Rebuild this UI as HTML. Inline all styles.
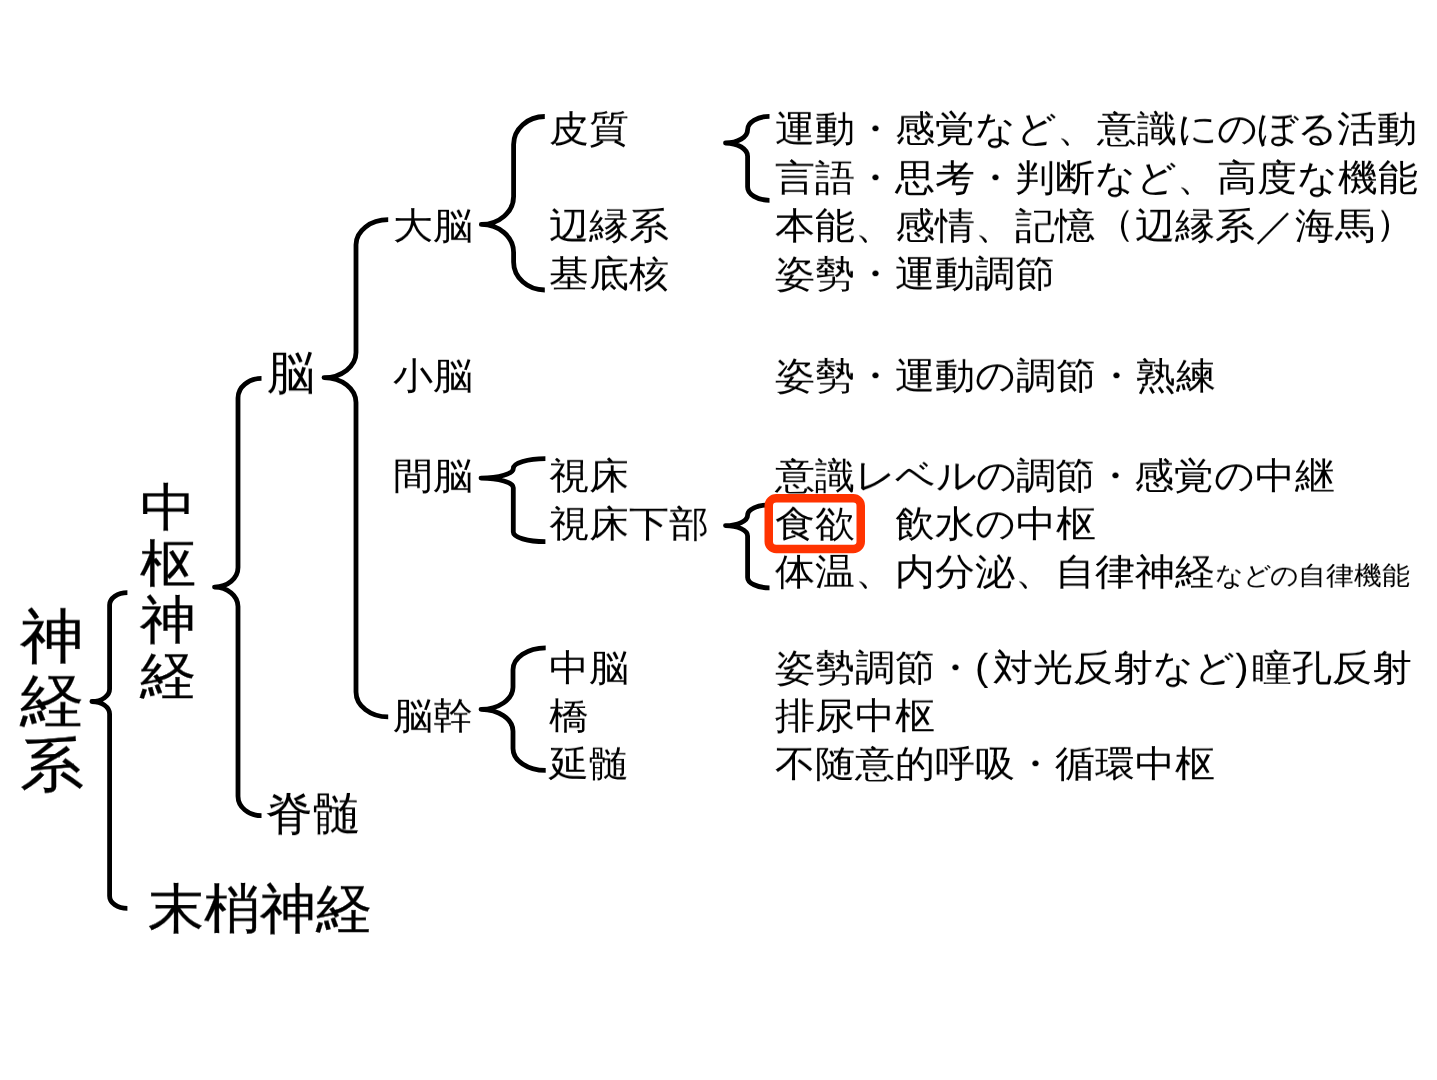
<!DOCTYPE html>
<html lang="ja"><head><meta charset="utf-8"><title>神経系</title>
<style>
html,body{margin:0;padding:0;background:#fff;}
body{width:1437px;height:1080px;position:relative;overflow:hidden;font-family:"Liberation Sans",sans-serif;color:#000;}
.t{position:absolute;white-space:pre;line-height:1;transform-origin:0 0;will-change:transform;}
.s{font-size:27.5px;}
#t1,#t2,#t3{-webkit-text-stroke:0.3px #000;}
.p1{letter-spacing:5px;}
.p2{letter-spacing:3.4px;}
.k1{letter-spacing:-1px;}
.k2{letter-spacing:-1.5px;}
.k3{letter-spacing:-0.75px;}
.k4{letter-spacing:-0.67px;}
.u{position:relative;top:-3px;}
svg{position:absolute;left:0;top:0;}
</style></head><body>
<svg width="1437" height="1080" viewBox="0 0 1437 1080"><g fill="none" stroke="#000" stroke-width="4.8" stroke-linejoin="round">
<path d="M127.4 592.6A17.8 12.5 0 0 0 109.6 605.1L109.6 689A17.7 12.5 0 0 1 91.9 701.5A17.7 12.5 0 0 1 109.6 714L109.6 895.9A17.8 12.5 0 0 0 127.4 908.4"/>
<path d="M261.5 378.4A23.5 19.5 0 0 0 238 397.9L238 567.6A23.5 19.5 0 0 1 214.5 587.1A23.5 19.5 0 0 1 238 606.6L238 796.2A23.5 19.5 0 0 0 261.5 815.7"/>
<path d="M388.2 219.7A32.2 25 0 0 0 356 244.7L356 352.6A32 25 0 0 1 324 377.6A32 25 0 0 1 356 402.6L356 691.9A32.2 25 0 0 0 388.2 716.9"/>
<path d="M544.8 116.5A31.2 28 0 0 0 513.6 144.5L513.6 196.4A32.3 28 0 0 1 481.3 224.4A32.3 28 0 0 1 513.6 252.4L513.6 262A31.2 28 0 0 0 544.8 290"/>
<path d="M545.4 458.7A32.1 9.7 0 0 0 513.3 468.4L513.3 468.4A32.3 9.7 0 0 1 481 478.1A32.3 9.7 0 0 1 513.3 487.8L513.3 532A32.1 9.7 0 0 0 545.4 541.7"/>
<path d="M545.7 647.8A32.7 22 0 0 0 513 669.8L513 687.3A32 22 0 0 1 481 709.3A32 22 0 0 1 513 731.3L513 748.4A32.7 22 0 0 0 545.7 770.4"/>
<path d="M769.5 116.3A21.9 13.35 0 0 0 747.6 129.65L747.6 129.65A22.1 13.35 0 0 1 725.5 143A22.1 13.35 0 0 1 747.6 156.35L747.6 186.95A21.9 13.35 0 0 0 769.5 200.3"/>
<path d="M769.5 504.8A21.9 10.4 0 0 0 747.6 515.2L747.6 515.2A22.1 10.4 0 0 1 725.5 525.6A22.1 10.4 0 0 1 747.6 536L747.6 577.4A21.9 10.4 0 0 0 769.5 587.8"/>
</g><rect x="768.75" y="498.25" width="92" height="50.8" rx="7.5" ry="7.5" fill="none" stroke="#FF3300" stroke-width="8.5"/></svg>
<div class="t" id="t1" style="left:20px;top:604.1px;font-size:64px;line-height:70.11px;transform:scaleY(0.92)">神<br>経<br>系</div>
<div class="t" id="t2" style="left:140px;top:480.2px;font-size:56px;line-height:60.87px;transform:scaleY(0.92)">中<br>枢<br>神<br>経</div>
<div class="t" id="t3" style="left:148px;top:881.5px;font-size:56px;transform:scaleY(0.96)">末梢神経</div>
<div class="t" id="t4" style="left:266.6px;top:350.3px;font-size:48px;transform:scaleY(0.96)">脳</div>
<div class="t" id="t5" style="left:265.2px;top:790.8px;font-size:48px;transform:scaleY(0.96)">脊髄</div>
<div class="t" id="t6" style="left:393px;top:206.59px;font-size:40px;transform:scaleY(0.92)">大脳</div>
<div class="t" id="t7" style="left:393px;top:357.1px;font-size:40px;transform:scaleY(0.92)">小脳</div>
<div class="t" id="t8" style="left:393px;top:457.3px;font-size:40px;transform:scaleY(0.92)">間脳</div>
<div class="t" id="t9" style="left:393px;top:697px;font-size:40px;transform:scaleY(0.92)">脳幹</div>
<div class="t" id="t10" style="left:549px;top:110.49px;font-size:40px;transform:scaleY(0.92)">皮質</div>
<div class="t" id="t11" style="left:549px;top:206.59px;font-size:40px;transform:scaleY(0.92)">辺縁系</div>
<div class="t" id="t12" style="left:549px;top:254.64px;font-size:40px;transform:scaleY(0.92)">基底核</div>
<div class="t" id="t13" style="left:549px;top:457.3px;font-size:40px;transform:scaleY(0.92)">視床</div>
<div class="t" id="t14" style="left:549px;top:505.15px;font-size:40px;transform:scaleY(0.92)">視床下部</div>
<div class="t" id="t15" style="left:549px;top:648.5px;font-size:40px;transform:scaleY(0.92)">中脳</div>
<div class="t" id="t16" style="left:549px;top:697px;font-size:40px;transform:scaleY(0.92)">橋</div>
<div class="t" id="t17" style="left:549px;top:744.9px;font-size:40px;transform:scaleY(0.92)">延髄</div>
<div class="t" id="r1" style="left:774.5px;top:110.49px;font-size:40px;transform:scaleY(0.92)">運動・感覚など、意識<span class="k1">にのぼる</span>活動</div>
<div class="t" id="r2" style="left:774.5px;top:158.54px;font-size:40px;transform:scaleY(0.92)">言語・思考・判断など、高度な機能</div>
<div class="t" id="r3" style="left:774.5px;top:206.59px;font-size:40px;transform:scaleY(0.92)">本能、感情、記憶<span class="u">（</span>辺縁系／海馬<span class="u">）</span></div>
<div class="t" id="r4" style="left:774.5px;top:254.64px;font-size:40px;transform:scaleY(0.92)">姿勢・運動調節</div>
<div class="t" id="r5" style="left:774.5px;top:357.1px;font-size:40px;transform:scaleY(0.92)">姿勢・運動の調節・熟練</div>
<div class="t" id="r6" style="left:774.5px;top:457.3px;font-size:40px;transform:scaleY(0.92)">意識<span class="k3">レベルの</span><span class="k4">調節・</span>感覚の中継</div>
<div class="t" id="r7" style="left:774.5px;top:505.15px;font-size:40px;transform:scaleY(0.92)">食欲　飲水の中枢</div>
<div class="t" id="r8" style="left:774.5px;top:553.1px;font-size:40px;transform:scaleY(0.92)">体温、内分泌、自律神経<span class="s"><span class="k2">などの</span>自律機能</span></div>
<div class="t" id="r9" style="left:774.5px;top:648.5px;font-size:40px;transform:scaleY(0.92)">姿勢調節・<span class="p1">(</span>対光反射など<span class="p2">)</span>瞳孔反射</div>
<div class="t" id="r10" style="left:774.5px;top:697px;font-size:40px;transform:scaleY(0.92)">排尿中枢</div>
<div class="t" id="r11" style="left:774.5px;top:744.9px;font-size:40px;transform:scaleY(0.92)">不随意的呼吸・循環中枢</div>
</body></html>
